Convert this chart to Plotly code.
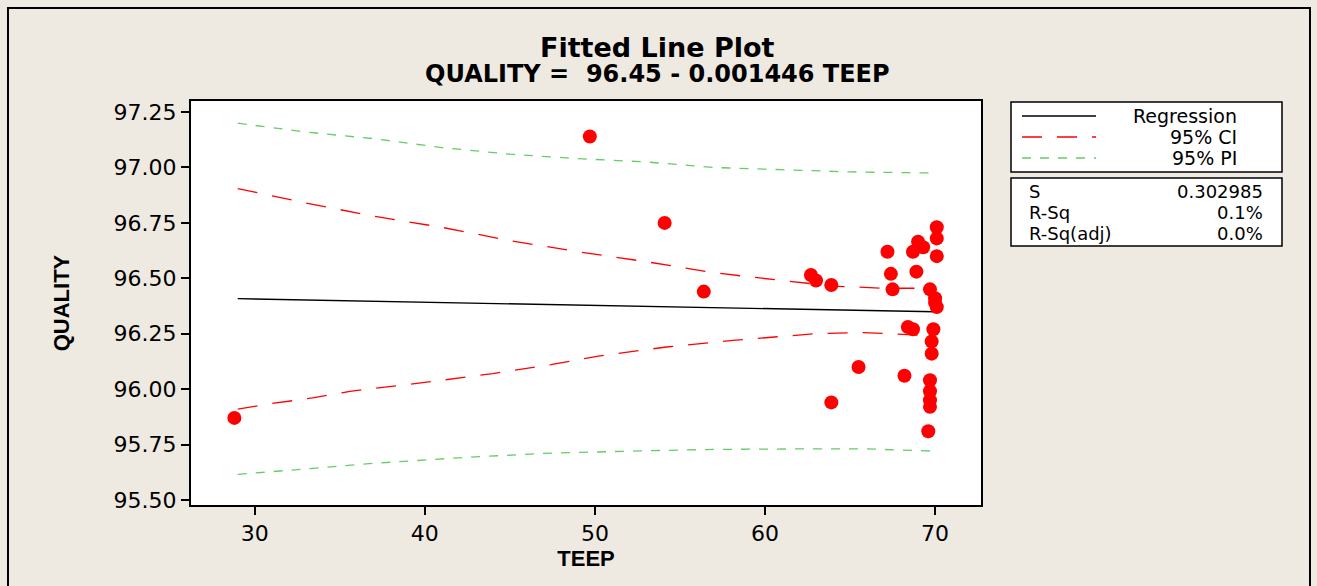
import plotly.graph_objects as go

# ---- data ----
teep = [28.8, 49.7, 54.1, 56.4, 62.7, 63.0, 63.9, 63.9, 65.5, 67.2, 67.4, 67.5,
        68.2, 68.4, 68.7, 68.7, 69.0, 69.3, 68.9, 69.6, 69.7, 69.7, 69.7, 69.7,
        69.7, 69.8, 69.8, 69.9, 70.0, 70.1, 70.1, 70.1, 70.1, 70.0]
quality = [95.87, 97.14, 96.75, 96.44, 96.515, 96.49, 96.47, 95.94, 96.10, 96.62, 96.52, 96.45,
           96.06, 96.28, 96.27, 96.62, 96.665, 96.64, 96.53, 95.81, 96.45, 96.04, 95.99, 95.95,
           95.92, 96.215, 96.16, 96.27, 96.41, 96.37, 96.73, 96.68, 96.60, 96.39]

fit_x = [29, 70]
fit_y = [96.408, 96.349]

ci_up_x = [29, 33, 37, 41, 45, 49, 53, 57, 61, 64, 67, 70]
ci_up_y = [96.905, 96.84, 96.78, 96.73, 96.67, 96.62, 96.575, 96.525, 96.49, 96.465, 96.455, 96.455]
ci_lo_x = [29, 31, 33.4, 35.6, 40, 44, 47.4, 50.3, 54.2, 58.1, 63, 65.6, 67.4, 70]
ci_lo_y = [95.91, 95.935, 95.96, 95.99, 96.03, 96.07, 96.11, 96.15, 96.19, 96.22, 96.25, 96.255, 96.25, 96.24]

pi_up_x = [29, 33, 37, 41, 45, 49, 53, 57, 61, 65, 70]
pi_up_y = [97.20, 97.16, 97.13, 97.09, 97.06, 97.04, 97.025, 97.00, 96.99, 96.98, 96.975]
pi_lo_x = [29, 32, 37, 42, 47, 52, 57, 62, 66, 70]
pi_lo_y = [95.615, 95.635, 95.665, 95.69, 95.71, 95.72, 95.728, 95.73, 95.73, 95.72]

y_ticks = [95.50, 95.75, 96.00, 96.25, 96.50, 96.75, 97.00, 97.25]
x_ticks = [30, 40, 50, 60, 70]

title = "Fitted Line Plot"
subtitle = "QUALITY =  96.45 - 0.001446 TEEP"
legend_names = ["Regression", "95% CI", "95% PI"]
stats_names = ["S", "R-Sq", "R-Sq(adj)"]
stats_vals = ["0.302985", "0.1%", "0.0%"]

# ---- layout geometry (pixels) ----
W, H = 1317, 586
L, R, T, B = 191, 981, 101, 505
BG = "#EEEAE1"
RED = "#FF0000"
GREEN = "#66CC66"


def px(x):
    return (x - L) / (R - L)


def py(y):
    return (B - y) / (B - T)


fig = go.Figure()
fig.add_trace(go.Scatter(x=pi_up_x, y=pi_up_y, mode="lines",
                         line=dict(color=GREEN, width=1.3, dash="9px,9px"), name="95% PI"))
fig.add_trace(go.Scatter(x=pi_lo_x, y=pi_lo_y, mode="lines",
                         line=dict(color=GREEN, width=1.3, dash="9px,9px"), showlegend=False))
fig.add_trace(go.Scatter(x=ci_up_x, y=ci_up_y, mode="lines",
                         line=dict(color=RED, width=1.3, dash="20px,15px"), name="95% CI"))
fig.add_trace(go.Scatter(x=ci_lo_x, y=ci_lo_y, mode="lines",
                         line=dict(color=RED, width=1.3, dash="20px,15px"), showlegend=False))
fig.add_trace(go.Scatter(x=fit_x, y=fit_y, mode="lines",
                         line=dict(color="black", width=1.3), name="Regression"))
fig.add_trace(go.Scatter(x=teep, y=quality, mode="markers",
                         marker=dict(color=RED, size=14, line=dict(width=0)), name="Data"))

shapes = []
annotations = []

# outer frame
shapes.append(dict(type="rect", xref="paper", yref="paper",
                   x0=px(8), x1=px(1310), y0=py(620), y1=py(8),
                   line=dict(color="black", width=2), fillcolor="rgba(0,0,0,0)", layer="below"))

# legend boxes
shapes.append(dict(type="rect", xref="paper", yref="paper",
                   x0=px(1011), x1=px(1282), y0=py(172), y1=py(102),
                   line=dict(color="black", width=1.5), fillcolor="white"))
shapes.append(dict(type="rect", xref="paper", yref="paper",
                   x0=px(1011), x1=px(1282), y0=py(246), y1=py(178),
                   line=dict(color="black", width=1.5), fillcolor="white"))

leg_styles = [dict(color="black", width=1.3),
              dict(color=RED, width=1.3, dash="20px,15px"),
              dict(color=GREEN, width=1.3, dash="9px,9px")]
leg_y = [116, 137, 158]
for name, st, yy in zip(legend_names, leg_styles, leg_y):
    shapes.append(dict(type="line", xref="paper", yref="paper",
                       x0=px(1022), x1=px(1096), y0=py(yy), y1=py(yy), line=st))
    annotations.append(dict(xref="paper", yref="paper", x=px(1239), y=py(yy),
                            xanchor="right", yanchor="middle", text=name, showarrow=False,
                            font=dict(family="DejaVu Sans", size=19, color="black")))

st_y = [191, 212, 234]
for n, v, yy in zip(stats_names, stats_vals, st_y):
    annotations.append(dict(xref="paper", yref="paper", x=px(1027), y=py(yy),
                            xanchor="left", yanchor="middle", text=n, showarrow=False,
                            font=dict(family="DejaVu Sans", size=18, color="black")))
    annotations.append(dict(xref="paper", yref="paper", x=px(1265), y=py(yy),
                            xanchor="right", yanchor="middle", text=v, showarrow=False,
                            font=dict(family="DejaVu Sans", size=18, color="black")))

annotations.append(dict(xref="paper", yref="paper", x=px(657), y=py(47),
                        xanchor="center", yanchor="middle", text="<b>" + title + "</b>",
                        showarrow=False,
                        font=dict(family="DejaVu Sans", size=27, color="black")))
annotations.append(dict(xref="paper", yref="paper", x=px(657), y=py(74),
                        xanchor="center", yanchor="middle", text="<b>" + subtitle + "</b>",
                        showarrow=False,
                        font=dict(family="DejaVu Sans", size=24, color="black")))

fig.update_layout(
    width=W, height=H,
    margin=dict(l=L, r=W - R, t=T, b=H - B, pad=0),
    paper_bgcolor=BG, plot_bgcolor="white",
    showlegend=False,
    shapes=shapes, annotations=annotations,
    xaxis=dict(range=[26.25, 72.7], tickvals=x_ticks, ticktext=[str(v) for v in x_ticks],
               showgrid=False, zeroline=False, showline=True, linecolor="black", linewidth=2,
               mirror=True, ticks="outside", ticklen=8, tickcolor="black", tickwidth=1.5,
               tickfont=dict(family="DejaVu Sans", size=22, color="black"),
               title=dict(text="<b>TEEP</b>", standoff=0,
                          font=dict(family="Liberation Sans Narrow, Liberation Sans", size=22, color="black"))),
    yaxis=dict(range=[95.477, 97.30], tickvals=y_ticks, ticktext=[f"{v:.2f}" for v in y_ticks],
               showgrid=False, zeroline=False, showline=True, linecolor="black", linewidth=2,
               mirror=True, ticks="outside", ticklen=8, tickcolor="black", tickwidth=1.5,
               tickfont=dict(family="DejaVu Sans", size=22, color="black"),
               title=dict(text="<b>QUALITY</b>", standoff=38,
                          font=dict(family="Liberation Sans Narrow, Liberation Sans", size=22, color="black"))),
)

fig.write_html("out.html")
